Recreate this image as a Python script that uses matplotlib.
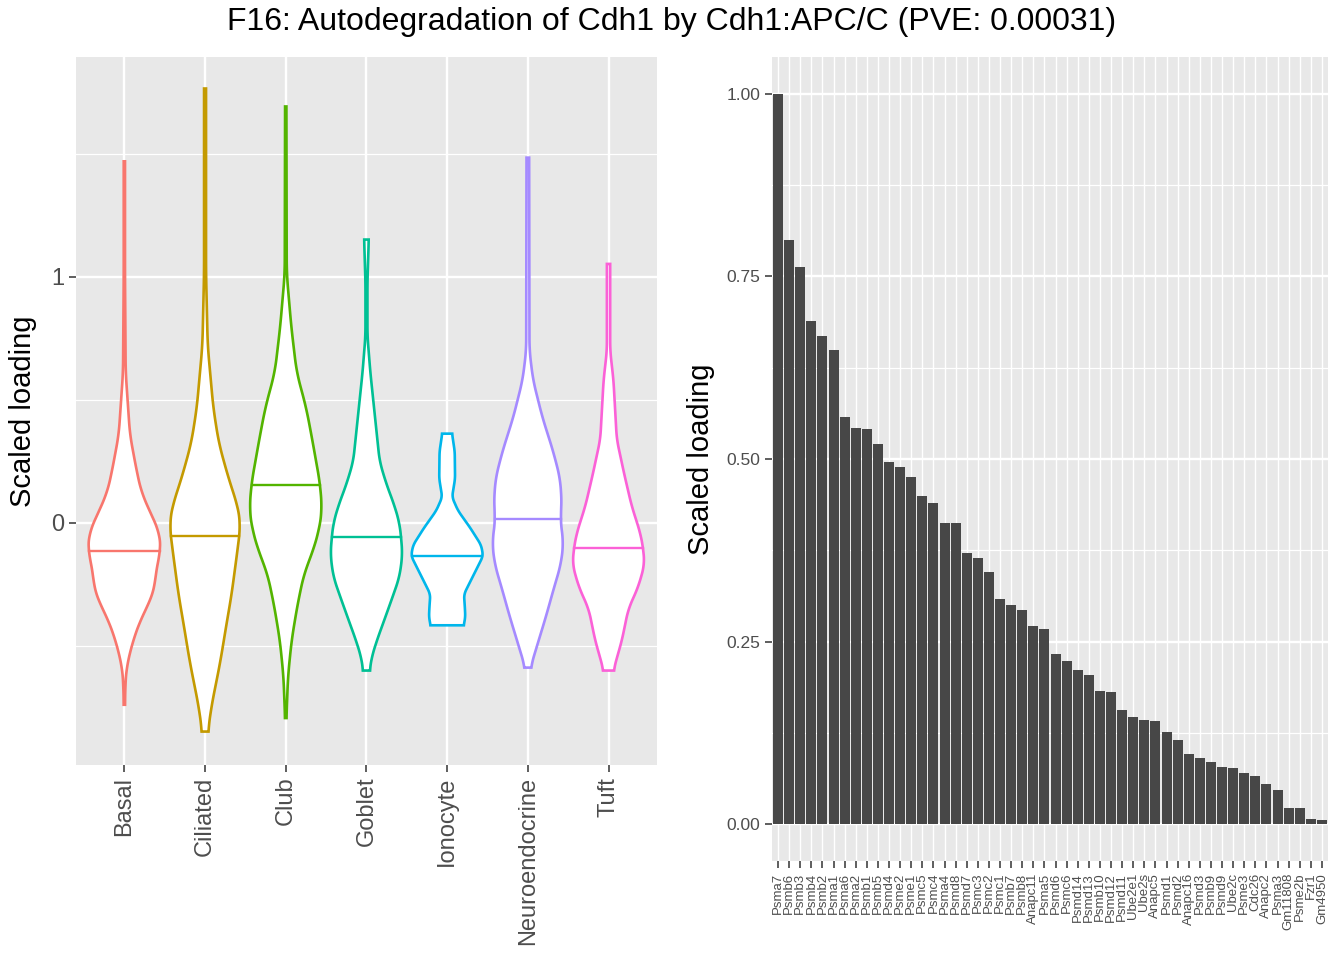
import numpy as np
import matplotlib
matplotlib.use("Agg")
import matplotlib.pyplot as plt

plt.rcParams['font.family'] = ['Liberation Sans', 'DejaVu Sans']

# violin panel: cell types, colours, medians and outline profiles
cell_types = ["Basal", "Ciliated", "Club", "Goblet", "Ionocyte", "Neuroendocrine", "Tuft"]
cell_colors = ["#F8766D", "#C49A00", "#53B400", "#00C094", "#00B6EB", "#A58AFF", "#FB61D7"]
medians = [-0.113, -0.054, 0.156, -0.058, -0.134, 0.018, -0.103]

# (scaled loading level, relative half width)
basal_y = [-0.739, -0.657, -0.584, -0.475, -0.385, -0.312, -0.258, -0.185, -0.113, -0.04, 0.033, 0.123, 0.214, 0.359, 0.613, 1.0, 1.47]
basal_w = [2, 3, 7, 27, 52, 80, 92, 97, 110, 107, 82, 52, 37, 17, 4, 2, 2]
ciliated_y = [-0.848, -0.748, -0.566, -0.403, -0.294, -0.113, -0.004, 0.069, 0.178, 0.323, 0.468, 0.722, 1.013, 1.766]
ciliated_w = [9, 19, 46, 66, 80, 98, 108, 99, 72, 42, 25, 8, 3, 3]
club_y = [-0.793, -0.621, -0.475, -0.33, -0.203, -0.113, -0.022, 0.051, 0.16, 0.25, 0.341, 0.468, 0.613, 0.795, 1.013, 1.693]
club_w = [2, 7, 18, 36, 56, 83, 102, 110, 104, 92, 80, 62, 33, 17, 3, 2]
goblet_y = [-0.60, -0.55, -0.48, -0.38, -0.29, -0.22, -0.13, -0.058, 0.0, 0.07, 0.16, 0.25, 0.43, 0.61, 0.76, 0.98, 1.152]
goblet_w = [10, 15, 31, 58, 82, 100, 109, 105, 100, 85, 60, 40, 26, 12, 3, 3, 7]
ionocyte_y = [-0.416, -0.385, -0.35, -0.29, -0.26, -0.185, -0.134, -0.09, -0.02, 0.05, 0.105, 0.18, 0.29, 0.363]
ionocyte_w = [50, 55, 54, 51, 62, 90, 109, 103, 70, 33, 15, 24, 23, 15]
neuro_y = [-0.588, -0.49, -0.38, -0.26, -0.17, -0.08, 0.018, 0.07, 0.18, 0.29, 0.43, 0.58, 0.70, 1.485]
neuro_w = [8, 30, 55, 80, 100, 108, 98, 103, 98, 77, 44, 16, 5, 4]
tuft_y = [-0.60, -0.55, -0.48, -0.35, -0.26, -0.17, -0.103, -0.04, 0.07, 0.196, 0.34, 0.58, 0.70, 1.053]
tuft_w = [15, 25, 40, 60, 90, 109, 105, 96, 70, 48, 25, 15, 5, 5]

profiles_y = [basal_y, ciliated_y, club_y, goblet_y, ionocyte_y, neuro_y, tuft_y]
profiles_w = [basal_w, ciliated_w, club_w, goblet_w, ionocyte_w, neuro_w, tuft_w]

# bar panel: genes and scaled loadings
genes = ["Psma7", "Psmb6", "Psmb3", "Psmb4", "Psmb2", "Psma1", "Psma6", "Psma2", "Psmb1", "Psmb5",
         "Psmd4", "Psme2", "Psme1", "Psmc5", "Psmc4", "Psma4", "Psmd8", "Psmd7", "Psmc3", "Psmc2",
         "Psmc1", "Psmb7", "Psmb8", "Anapc11", "Psma5", "Psmd6", "Psmc6", "Psmd14", "Psmd13", "Psmb10",
         "Psmd12", "Psmd11", "Ube2e1", "Ube2s", "Anapc5", "Psmd1", "Psmd2", "Anapc16", "Psmd3", "Psmb9",
         "Psmd9", "Ube2c", "Psme3", "Cdc26", "Anapc2", "Psma3", "Gm11808", "Psme2b", "Fzr1", "Gm4950"]
loadings = [1.0, 0.800, 0.763, 0.689, 0.668, 0.649, 0.558, 0.543, 0.541, 0.521,
            0.496, 0.489, 0.476, 0.450, 0.440, 0.413, 0.412, 0.372, 0.365, 0.346,
            0.309, 0.300, 0.293, 0.272, 0.268, 0.233, 0.224, 0.212, 0.204, 0.182,
            0.181, 0.156, 0.147, 0.143, 0.141, 0.127, 0.116, 0.097, 0.091, 0.086,
            0.078, 0.077, 0.070, 0.067, 0.055, 0.047, 0.023, 0.022, 0.007, 0.006]

title = "F16: Autodegradation of Cdh1 by Cdh1:APC/C (PVE: 0.00031)"

PANEL = "#E8E8E8"
TICK = "#4D4D4D"


def style_axes(ax):
    ax.set_facecolor(PANEL)
    for s in ax.spines.values():
        s.set_visible(False)
    ax.set_axisbelow(True)
    ax.tick_params(which="major", length=5, width=1.1, color="#333333", labelcolor=TICK)
    ax.tick_params(which="minor", length=0)


def smooth_outline(ys, ws):
    ys = np.asarray(ys, float)
    ws = np.asarray(ws, float) / 110.0
    grid = np.linspace(ys[0], ys[-1], 400)
    w = np.interp(grid, ys, ws)
    k = 9
    pad = np.concatenate([np.full(k, w[0]), w, np.full(k, w[-1])])
    w = np.convolve(pad, np.ones(2 * k + 1) / (2 * k + 1), mode="same")[k:-k]
    return grid, w


fig = plt.figure(figsize=(13.44, 9.6), dpi=100)
ax1 = fig.add_axes([0.0565, 0.2031, 0.4323, 0.7375])
ax2 = fig.add_axes([0.5744, 0.1031, 0.4137, 0.8375])

# left: violins
style_axes(ax1)
half = 0.45
for i, (name, col) in enumerate(zip(cell_types, cell_colors)):
    xc = i + 1
    gy, gw = smooth_outline(profiles_y[i], profiles_w[i])
    xs = np.concatenate([xc - gw * half, (xc + gw * half)[::-1]])
    yy = np.concatenate([gy, gy[::-1]])
    ax1.fill(xs, yy, facecolor="white", edgecolor=col, lw=1.9, zorder=3)
    mw = np.interp(medians[i], gy, gw) * half
    ax1.plot([xc - mw, xc + mw], [medians[i], medians[i]], color=col, lw=1.7, zorder=4)

ax1.set_xlim(0.4, 7.6)
ax1.set_ylim(-0.984, 1.894)
ax1.set_xticks(range(1, 8))
ax1.set_xticklabels(cell_types, rotation=90, fontsize=17)
ax1.set_yticks([0, 1])
ax1.set_yticklabels(["0", "1"], fontsize=17)
ax1.set_yticks([-0.5, 0.5, 1.5], minor=True)
ax1.grid(which="major", color="white", lw=1.7)
ax1.grid(which="minor", axis="y", color="white", lw=0.9)
ax1.set_ylabel("Scaled loading", fontsize=21, labelpad=10)

# right: bars
style_axes(ax2)
pos = np.arange(1, len(genes) + 1)
ax2.bar(pos, loadings, width=0.9, color="#474747", zorder=3)
ax2.set_xlim(0.45, 50.55)
ax2.set_ylim(-0.05, 1.05)
ax2.set_xticks(pos)
ax2.set_xticklabels(genes, rotation=90, fontsize=9.5)
ax2.set_yticks([0, 0.25, 0.5, 0.75, 1.0])
ax2.set_yticklabels(["0.00", "0.25", "0.50", "0.75", "1.00"], fontsize=12.5)
ax2.set_yticks([0.125, 0.375, 0.625, 0.875], minor=True)
ax2.grid(which="major", axis="y", color="white", lw=1.7)
ax2.grid(which="major", axis="x", color="white", lw=1.0)
ax2.grid(which="minor", axis="y", color="white", lw=0.9)
ax2.set_ylabel("Scaled loading", fontsize=21, labelpad=8)

fig.text(0.5, 0.977, title, ha="center", va="center", fontsize=23)

fig.savefig("out.png", dpi=100)
